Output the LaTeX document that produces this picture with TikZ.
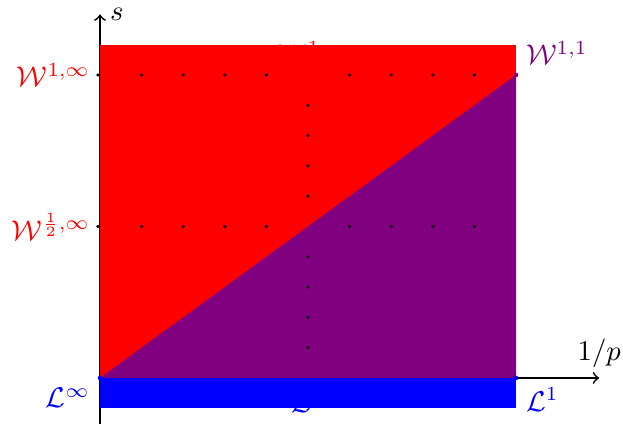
\documentclass[tikz,border=0pt]{standalone}
\usepackage{amsmath}
\begin{document}
\begin{tikzpicture}[x=145.6pt,y=106.05pt,
  axis/.style={line width=0.6pt,->},
  griddot/.style={fill=black,draw=none}]
\useasboundingbox (-0.2404,-0.1518) rectangle (1.2572,1.2475);
% axes
\coordinate (o) at (0,0);
\coordinate (ytip) at (0,1.2);
\coordinate (ybot) at (0,-0.16);
\coordinate (xtip) at (1.2,0);
\draw[axis] (ybot) -- (ytip);
\draw[axis] (o) -- (xtip);
\node[right] (slab) at (ytip) {$s$};
\node[above] (plab) at (xtip) {$1/p$};
% hidden labels
\node[above,red] (wmid) at (0.5,1) {$\mathcal{W}^{1,p}$};
\node[below,blue,yshift=-1.8pt] (lmid) at (0.5,0) {$\mathcal{L}^{p}$};
% regions
\fill[red] (0,0) rectangle (1,1.1);
\fill[violet] (0,0) -- (1,1) -- (1,0) -- cycle;
\fill[blue] (0,-0.1) rectangle (1,0);
% dotted guides
\foreach \x in {0.1,0.2,0.3,0.4,0.6,0.7,0.8,0.9}{
  \fill[griddot] (\x,1) circle (0.6pt);
  \fill[griddot] (\x,0.5) circle (0.6pt);
}
\foreach \y in {0.1,0.2,0.3,0.4,0.6,0.7,0.8,0.9}{
  \fill[griddot] (0.5,\y) circle (0.6pt);
}
\fill[griddot] (-0.005,1) circle (0.6pt);
\fill[griddot] (-0.005,0.5) circle (0.6pt);
% end points
\fill[blue] (0,0) circle (0.8pt);
\fill[blue] (1,0) circle (0.8pt);
\fill[violet] (1,1) circle (0.8pt);
% labels
\node[left,red] (w1inf) at (0,1) {$\mathcal{W}^{1,\infty}$};
\node[left,red] (whalf) at (0,0.5) {$\mathcal{W}^{\frac{1}{2},\infty}$};
\node[below left,blue] (linf) at (0,0) {$\mathcal{L}^{\infty}$};
\node[below right,blue] (l1) at (1,0) {$\mathcal{L}^{1}$};
\node[above right,violet] (w11) at (1,1) {$\mathcal{W}^{1,1}$};
\end{tikzpicture}
\end{document}
